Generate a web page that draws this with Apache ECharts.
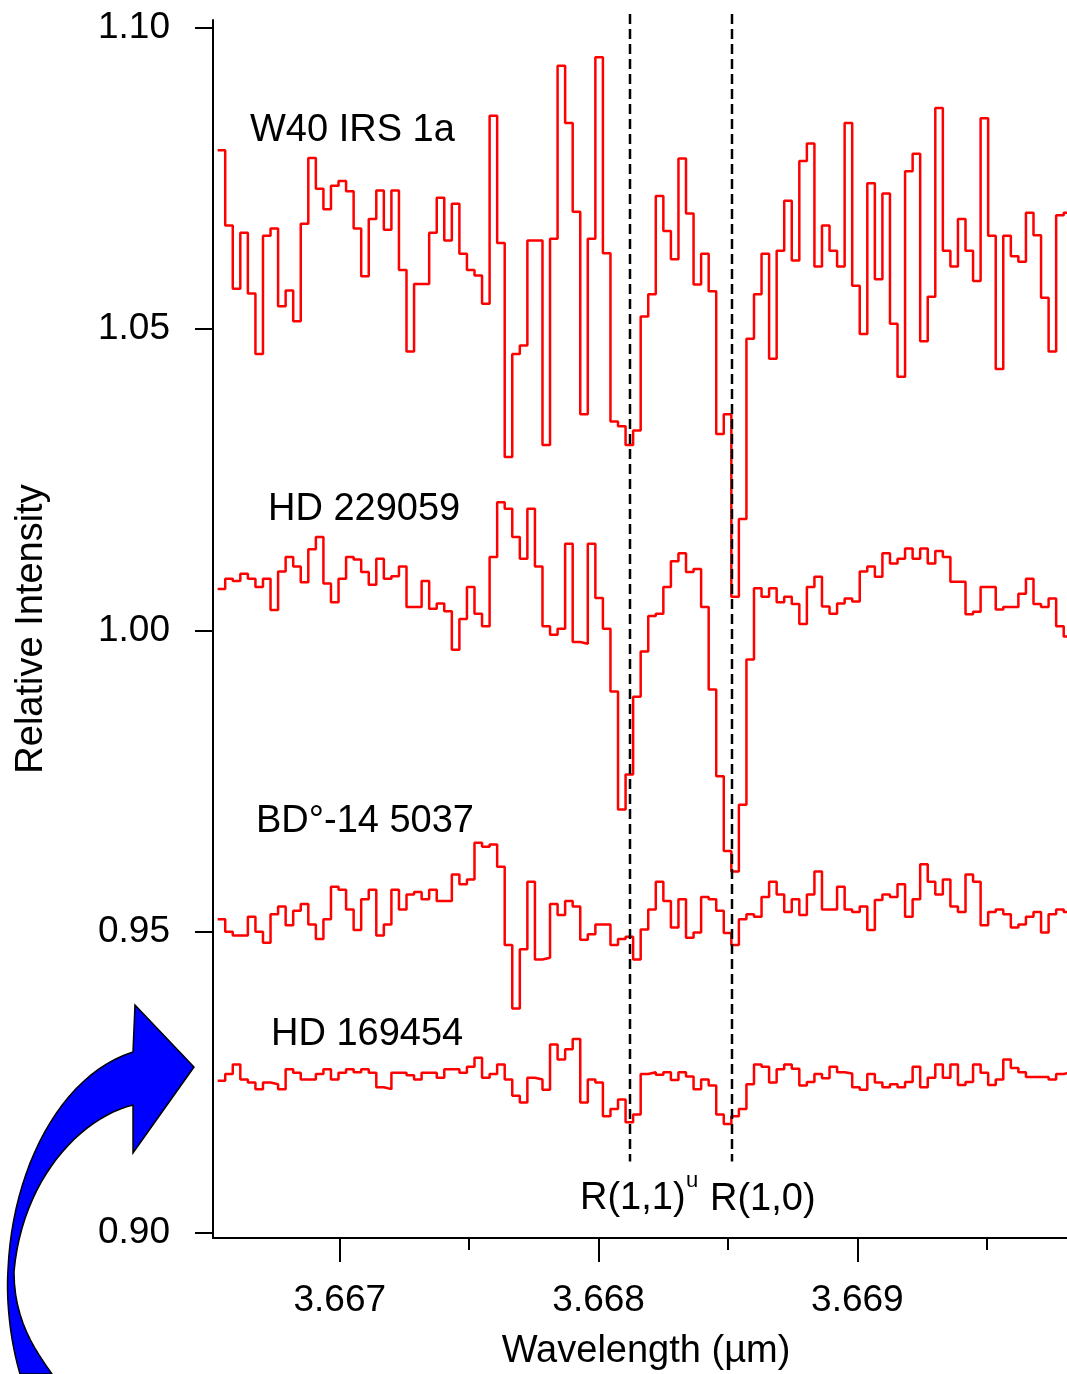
<!DOCTYPE html>
<html><head><meta charset="utf-8">
<script src="https://cdn.jsdelivr.net/npm/echarts@6/dist/echarts.min.js"></script>
<style>html,body{margin:0;padding:0;background:#fff}#c{width:1067px;height:1374px}</style>
</head><body><div id="c"></div>
<script>
// Spectral grid (bin left edges, µm)
const startWavelength = 3.666528;
const binWidth = 0.00002919;

const W40_IRS_1a = [1.0797,1.0672,1.0567,1.0660,1.0559,1.0459,1.0655,1.0667,1.0538,1.0564,
1.0513,1.0675,1.0784,1.0733,1.0699,1.0738,1.0746,1.0729,1.0667,1.0588,
1.0683,1.0730,1.0665,1.0730,1.0598,1.0463,1.0575,1.0575,1.0660,1.0718,
1.0647,1.0708,1.0625,1.0598,1.0589,1.0542,1.0854,1.0643,1.0288,1.0459,
1.0473,1.0647,1.0647,1.0308,1.0650,1.0937,1.0842,1.0695,1.0359,1.0650,
1.0951,1.0626,1.0347,1.0339,1.0308,1.0332,1.0521,1.0558,1.0721,1.0663,
1.0616,1.0783,1.0692,1.0574,1.0625,1.0563,1.0326,1.0359,1.0056,1.0185,
1.0484,1.0558,1.0625,1.0451,1.0630,1.0713,1.0614,1.0779,1.0808,1.0604,
1.0672,1.0630,1.0604,1.0842,1.0572,1.0492,1.0742,1.0583,1.0725,1.0509,
1.0421,1.0762,1.0791,1.0480,1.0554,1.0867,1.0630,1.0604,1.0683,1.0630,
1.0580,1.0850,1.0655,1.0434,1.0655,1.0621,1.0612,1.0693,1.0656,1.0552,
1.0463,1.0689,1.0693];

const HD_229059 = [1.0069,1.0086,1.0082,1.0094,1.0086,1.0072,1.0086,1.0034,1.0098,1.0122,
1.0106,1.0080,1.0135,1.0155,1.0078,1.0047,1.0086,1.0122,1.0118,1.0097,
1.0076,1.0119,1.0086,1.0090,1.0106,1.0039,1.0039,1.0082,1.0036,1.0045,
1.0032,0.9968,1.0019,1.0072,1.0028,1.0007,1.0122,1.0213,1.0202,1.0155,
1.0119,1.0202,1.0106,1.0007,0.9993,1.0003,1.0144,0.9981,0.9978,1.0144,
1.0054,1.0003,0.9899,0.9703,0.9761,0.9890,0.9965,1.0024,1.0028,1.0072,
1.0115,1.0128,1.0097,1.0102,1.0039,0.9902,0.9758,0.9634,0.9600,0.9711,
0.9952,1.0070,1.0056,1.0070,1.0047,1.0056,1.0044,1.0011,1.0072,1.0089,
1.0040,1.0028,1.0045,1.0053,1.0048,1.0098,1.0106,1.0089,1.0128,1.0111,
1.0119,1.0136,1.0119,1.0136,1.0111,1.0132,1.0122,1.0081,1.0081,1.0027,
1.0031,1.0072,1.0072,1.0035,1.0039,1.0039,1.0061,1.0086,1.0044,1.0039,
1.0053,1.0007,0.9990];

const BD_14_5037 = [0.9521,0.9500,0.9494,0.9494,0.9525,0.9500,0.9482,0.9529,0.9542,0.9511,
0.9535,0.9546,0.9512,0.9488,0.9521,0.9575,0.9570,0.9537,0.9503,0.9554,
0.9570,0.9494,0.9512,0.9570,0.9537,0.9562,0.9566,0.9554,0.9570,0.9551,
0.9551,0.9595,0.9579,0.9587,0.9648,0.9641,0.9645,0.9608,0.9478,0.9373,
0.9471,0.9583,0.9454,0.9457,0.9546,0.9528,0.9551,0.9542,0.9487,0.9496,
0.9512,0.9512,0.9478,0.9488,0.9492,0.9454,0.9504,0.9537,0.9583,0.9551,
0.9507,0.9554,0.9490,0.9499,0.9558,0.9554,0.9535,0.9498,0.9478,0.9521,
0.9529,0.9525,0.9558,0.9583,0.9562,0.9533,0.9554,0.9528,0.9562,0.9600,
0.9537,0.9537,0.9575,0.9537,0.9533,0.9542,0.9503,0.9553,0.9562,0.9558,
0.9579,0.9525,0.9554,0.9612,0.9583,0.9562,0.9587,0.9542,0.9533,0.9595,
0.9583,0.9511,0.9533,0.9537,0.9529,0.9507,0.9512,0.9525,0.9533,0.9499,
0.9529,0.9537,0.9533];

const HD_169454 = [0.9253,0.9264,0.9280,0.9255,0.9250,0.9239,0.9250,0.9247,0.9239,0.9272,
0.9266,0.9255,0.9255,0.9264,0.9272,0.9255,0.9266,0.9272,0.9267,0.9272,
0.9266,0.9242,0.9239,0.9266,0.9266,0.9262,0.9255,0.9266,0.9266,0.9258,
0.9272,0.9272,0.9266,0.9276,0.9291,0.9258,0.9264,0.9280,0.9255,0.9228,
0.9217,0.9258,0.9255,0.9238,0.9313,0.9288,0.9305,0.9322,0.9217,0.9255,
0.9250,0.9194,0.9206,0.9222,0.9184,0.9197,0.9264,0.9267,0.9263,0.9267,
0.9254,0.9267,0.9260,0.9239,0.9255,0.9245,0.9197,0.9181,0.9194,0.9206,
0.9247,0.9280,0.9276,0.9250,0.9272,0.9280,0.9273,0.9245,0.9251,0.9264,
0.9257,0.9276,0.9267,0.9265,0.9242,0.9238,0.9264,0.9250,0.9242,0.9247,
0.9242,0.9251,0.9276,0.9242,0.9258,0.9280,0.9258,0.9280,0.9246,0.9251,
0.9280,0.9266,0.9246,0.9255,0.9288,0.9274,0.9267,0.9259,0.9259,0.9259,
0.9255,0.9264,0.9267];

const xMajorTicks = [3.667, 3.668, 3.669];
const xMinorTicks = [3.6675, 3.6685, 3.6695];
const yTicks = [0.90, 0.95, 1.00, 1.05, 1.10];
const lineWavelengths = [3.668121, 3.668517];   // R(1,1)u, R(1,0)
const lineLabelBottom = 0.9119, lineLabelTop = 1.1023;

const FONT = "'Liberation Sans', Arial, sans-serif";

function toPoints(vals){
  const pts = vals.map((v,i)=>[startWavelength + i*binWidth, v]);
  pts.push([startWavelength + vals.length*binWidth, vals[vals.length-1]]);
  return pts;
}
function spec(name, vals){
  return {name, type:'line', step:'end', data: toPoints(vals), symbol:'none',
    lineStyle:{color:'#ff0000', width:2.5}, itemStyle:{color:'#ff0000'}, animation:false, clip:true};
}

const chart = echarts.init(document.getElementById('c'), null, {renderer:'canvas'});
const tickFont = {color:'#000', fontSize:37, fontFamily:FONT};
const nameFont = {color:'#000', fontSize:38, fontFamily:FONT};
chart.setOption({
  animation:false,
  backgroundColor:'#fff',
  grid:{left:213, right:0, top:20, bottom:136, containLabel:false, outerBoundsMode:'none'},
  xAxis:[{
    type:'value', min:3.66651, max:3.66981, position:'bottom',
    axisLine:{lineStyle:{color:'#000', width:2}},
    axisTick:{customValues:xMajorTicks, length:24, lineStyle:{color:'#000', width:2}},
    axisLabel:Object.assign({customValues:xMajorTicks, margin:44, formatter:v=>v.toFixed(3)}, tickFont),
    splitLine:{show:false},
    name:'Wavelength (µm)', nameLocation:'middle', nameGap:95,
    nameTextStyle:Object.assign({padding:[0,0,0,12]}, nameFont)
  },{
    type:'value', min:3.66651, max:3.66981, position:'bottom',
    axisLine:{show:false},
    axisTick:{customValues:xMinorTicks, length:12, lineStyle:{color:'#000', width:2}},
    axisLabel:{show:false}, splitLine:{show:false}
  }],
  yAxis:{
    type:'value', min:0.8992, max:1.1013,
    axisLine:{show:true, lineStyle:{color:'#000', width:2}},
    axisTick:{show:true, customValues:yTicks, length:18, lineStyle:{color:'#000', width:2}},
    axisLabel:Object.assign({customValues:yTicks, margin:43, formatter:v=>v.toFixed(2)}, tickFont),
    splitLine:{show:false},
    name:'Relative Intensity', nameLocation:'middle', nameGap:162,
    nameTextStyle:nameFont
  },
  series:[spec('W40 IRS 1a', W40_IRS_1a), spec('HD 229059', HD_229059),
          spec('BD°-14 5037', BD_14_5037), spec('HD 169454', HD_169454)]
});

const g = [];
lineWavelengths.forEach(w=>{
  const p1 = chart.convertToPixel({xAxisIndex:0, yAxisIndex:0}, [w, lineLabelTop]);
  const p2 = chart.convertToPixel({xAxisIndex:0, yAxisIndex:0}, [w, lineLabelBottom]);
  g.push({type:'line', shape:{x1:Math.round(p1[0]), y1:p1[1], x2:Math.round(p2[0]), y2:p2[1]},
    style:{stroke:'#000', lineWidth:2.5, lineDash:[10,5]}, z:10});
});
function txt(t, x, y){ return {type:'text', x, y, style:{text:t, fill:'#000', font:'38px '+FONT, textVerticalAlign:'middle'}, z:20}; }
g.push(txt('W40 IRS 1a', 250, 131));
g.push(txt('HD 229059', 268, 510));
g.push(txt('BD°-14 5037', 256, 822));
g.push(txt('HD 169454', 271, 1035));
g.push(txt('R(1,1)', 580, 1199));
g.push({type:'text', x:686, y:1181, style:{text:'u', fill:'#000', font:'22px '+FONT, textVerticalAlign:'middle'}, z:20});
g.push(txt('R(1,0)', 710, 1200));

// curved blue arrow outline (decoration, pixel space) sampled from cubic curves
function cubic(p0,p1,p2,p3,n){
  const out=[];
  for(let i=1;i<=n;i++){const t=i/n,u=1-t;
    out.push([u*u*u*p0[0]+3*u*u*t*p1[0]+3*u*t*t*p2[0]+t*t*t*p3[0],
              u*u*u*p0[1]+3*u*u*t*p1[1]+3*u*t*t*p2[1]+t*t*t*p3[1]]);}
  return out;
}
let arrow=[[20,1374]];
arrow=arrow.concat(cubic([20,1374],[10,1340],[6,1300],[8,1270],12));
arrow=arrow.concat(cubic([8,1270],[12,1170],[60,1075],[133,1052],24));
arrow.push([135,1005],[194,1067],[133,1153],[133,1105]);
arrow=arrow.concat(cubic([133,1105],[80,1118],[22,1180],[14,1272],24));
arrow=arrow.concat(cubic([14,1272],[14,1320],[35,1350],[52,1374],12));
g.push({type:'polygon', shape:{points:arrow}, style:{fill:'#0000ff', stroke:'#000', lineWidth:1.5}, z:5});
chart.setOption({graphic:g});
</script></body></html>
